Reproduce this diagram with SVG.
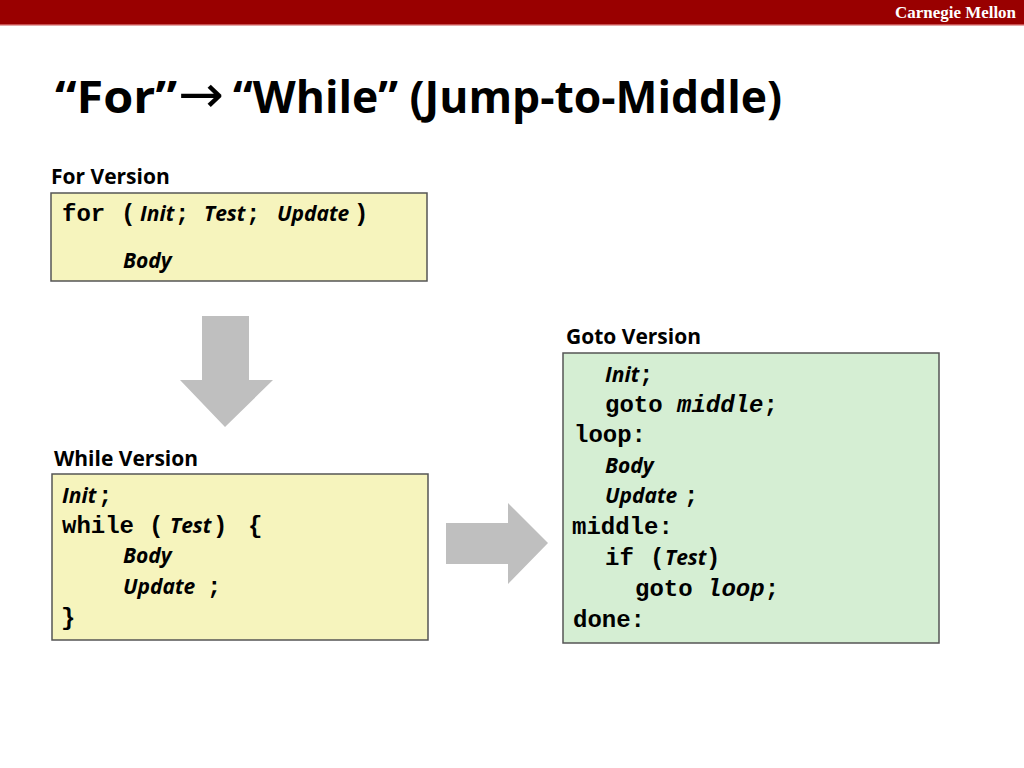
<svg xmlns="http://www.w3.org/2000/svg" width="1024" height="768" viewBox="0 0 1024 768">
<style>
.m{font-family:"Liberation Mono","Courier New",monospace;font-weight:bold;font-size:24px;fill:#000}
.mi{font-family:"Liberation Mono","Courier New",monospace;font-weight:bold;font-style:italic;font-size:24px;fill:#000}
.i{font-family:"Open Sans","Noto Sans",sans-serif;font-weight:bold;font-style:italic;font-size:21px;fill:#000}
.lbl{font-family:"Open Sans","Noto Sans",sans-serif;font-weight:bold;font-size:21px;fill:#000}
.ttl{font-family:"Open Sans","Noto Sans",sans-serif;font-weight:bold;font-size:45px;fill:#000}
.yb{fill:#f6f4bd;stroke:#555;stroke-width:1.5}
.gb{fill:#d5eed3;stroke:#555;stroke-width:1.5}
.arr{fill:#bfbfbf}
</style>
<rect x="0" y="0" width="1024" height="24" fill="#990000"/>
<rect x="0" y="24" width="1024" height="1.5" fill="#c85050"/>
<text x="1016" y="18" text-anchor="end" font-family="'Liberation Serif','Times New Roman',serif" font-weight="bold" font-size="16" textLength="121" lengthAdjust="spacingAndGlyphs" fill="#fff">Carnegie Mellon</text>
<text class="ttl" x="55" y="113" textLength="122" lengthAdjust="spacingAndGlyphs">“For”</text>
<text x="178" y="112" font-family="'DejaVu Sans',sans-serif" font-size="52" textLength="46" lengthAdjust="spacingAndGlyphs" fill="#000">→</text>
<text class="ttl" x="233" y="113" textLength="549" lengthAdjust="spacingAndGlyphs">“While” (Jump-to-Middle)</text>

<g id="for-version">
<text class="lbl" x="51" y="184">For Version</text>
<rect class="yb" x="51" y="193" width="376" height="88"/>
<text class="m" x="62" y="221">for</text>
<text class="m" x="121" y="221">(</text>
<text class="i" x="140" y="221">Init</text>
<text class="m" x="175" y="221">;</text>
<text class="i" x="204" y="221">Test</text>
<text class="m" x="246" y="221">;</text>
<text class="i" x="277" y="221">Update</text>
<text class="m" x="354" y="221">)</text>
<text class="i" x="123" y="268">Body</text>
</g>

<g id="while-version">
<text class="lbl" x="54" y="466">While Version</text>
<rect class="yb" x="52" y="474" width="376" height="166"/>
<text class="i" x="62" y="503">Init</text>
<text class="m" x="98" y="503">;</text>
<text class="m" x="62" y="533">while</text>
<text class="m" x="149" y="533">(</text>
<text class="i" x="170" y="533">Test</text>
<text class="m" x="213" y="533">)</text>
<text class="m" x="248" y="533">{</text>
<text class="i" x="123" y="563">Body</text>
<text class="i" x="123" y="594">Update</text>
<text class="m" x="207" y="594">;</text>
<text class="m" x="61" y="625">}</text>
</g>

<g id="goto-version">
<text class="lbl" x="566" y="344">Goto Version</text>
<rect class="gb" x="563" y="353" width="376" height="290"/>
<text class="i" x="605" y="382">Init</text>
<text class="m" x="639" y="382">;</text>
<text class="m" x="605" y="412">goto <tspan class="mi">middle</tspan>;</text>
<text class="m" x="574" y="442">loop:</text>
<text class="i" x="605" y="473">Body</text>
<text class="i" x="605" y="503">Update</text>
<text class="m" x="684" y="503">;</text>
<text class="m" x="572" y="534">middle:</text>
<text class="m" x="605" y="565">if</text>
<text class="m" x="650" y="565">(</text>
<text class="i" x="665" y="565">Test</text>
<text class="m" x="706" y="565">)</text>
<text class="m" x="635" y="596">goto <tspan class="mi">loop</tspan>;</text>
<text class="m" x="573" y="627">done:</text>
</g>

<g id="connectors">
<polygon class="arr" points="202,316 249,316 249,380 273,380 225,427 180,380 202,380"/>
<polygon class="arr" points="446,523 508,523 508,503 548,543 508,584 508,564 446,564"/>
</g>
</svg>
